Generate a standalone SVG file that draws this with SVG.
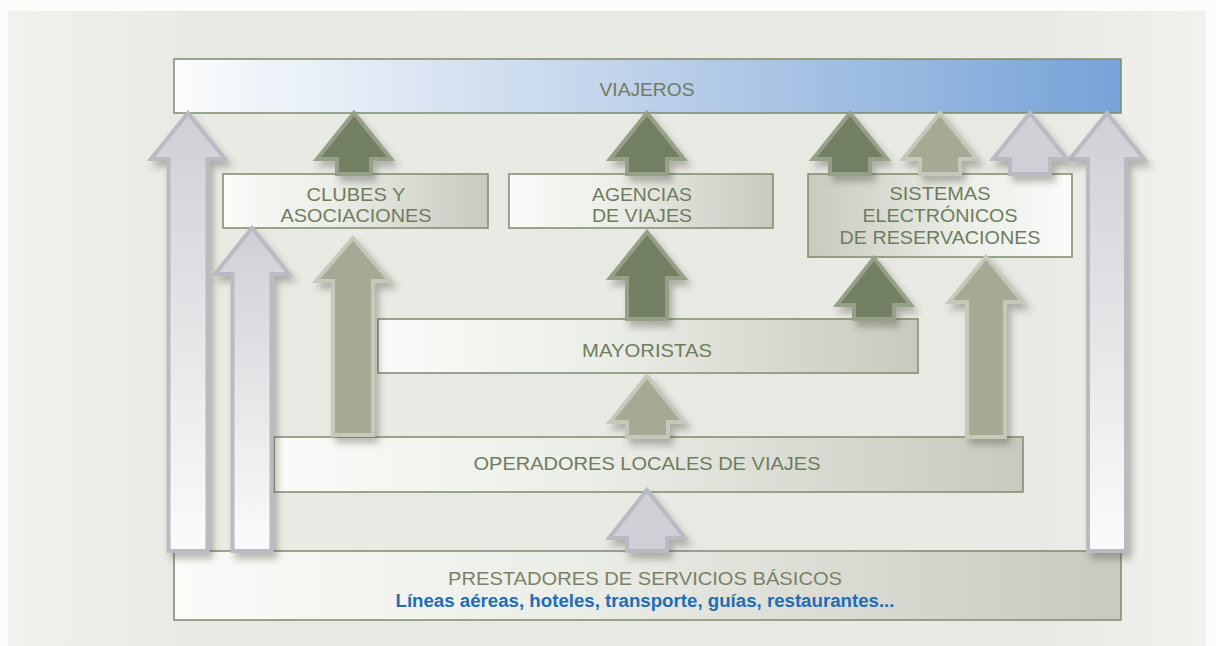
<svg xmlns="http://www.w3.org/2000/svg" width="1216" height="646" viewBox="0 0 1216 646">
  <defs>
    <linearGradient id="panel" x1="0" y1="0" x2="1" y2="0">
      <stop offset="0" stop-color="#f1f1ee"/>
      <stop offset="0.15" stop-color="#e9eae4"/>
      <stop offset="0.85" stop-color="#e8e9e3"/>
      <stop offset="1" stop-color="#f1f1ee"/>
    </linearGradient>
    <linearGradient id="gBlue" x1="0" y1="0" x2="1" y2="0">
      <stop offset="0" stop-color="#fbfcfd"/>
      <stop offset="0.45" stop-color="#c4d5ec"/>
      <stop offset="1" stop-color="#76a3d8"/>
    </linearGradient>
    <linearGradient id="gBoxR" x1="0" y1="0" x2="1" y2="0">
      <stop offset="0" stop-color="#fbfbf9"/>
      <stop offset="0.4" stop-color="#eceee8"/>
      <stop offset="1" stop-color="#c8cabf"/>
    </linearGradient>
    <linearGradient id="gBoxL" x1="0" y1="0" x2="1" y2="0">
      <stop offset="0" stop-color="#c8cabf"/>
      <stop offset="0.6" stop-color="#eceee8"/>
      <stop offset="1" stop-color="#fbfbfa"/>
    </linearGradient>
    <linearGradient id="gBig" x1="0" y1="0" x2="0" y2="1">
      <stop offset="0" stop-color="#cfd0d5"/>
      <stop offset="1" stop-color="#fbfbfb"/>
    </linearGradient>
    <filter id="sh" x="-30%" y="-30%" width="160%" height="160%">
      <feDropShadow dx="4" dy="6" stdDeviation="3.5" flood-color="#3d4236" flood-opacity="0.35"/>
    </filter>
    <style>
      .box { stroke: #7d8b6c; stroke-width: 1.5; }
      .lbl { font-family: "Liberation Sans", Arial, sans-serif; font-size: 19px; fill: #6e7c5e; text-anchor: middle; }
      .dark { fill: #727f62; stroke: #95a086; stroke-width: 4; stroke-linejoin: miter; filter: url(#sh); }
      .med { fill: #a6a994; stroke: #c6c9b9; stroke-width: 4; stroke-linejoin: miter; filter: url(#sh); }
      .light { fill: #cfd0d5; stroke: #b9bac2; stroke-width: 4; stroke-linejoin: miter; filter: url(#sh); }
      .big { fill: url(#gBig); stroke: #b9bac2; stroke-width: 4; stroke-linejoin: miter; filter: url(#sh); }
    </style>
  </defs>

  <rect x="0" y="0" width="1216" height="646" fill="#fcfcfb"/>
  <rect x="8" y="11" width="1198" height="635" fill="url(#panel)"/>

  <g id="viajeros">
    <rect class="box" x="174" y="59" width="947" height="54" fill="url(#gBlue)"/>
    <text class="lbl" x="647" y="96" textLength="95" lengthAdjust="spacingAndGlyphs">VIAJEROS</text>
  </g>
  <g id="clubes">
    <rect class="box" x="223" y="174" width="265" height="54" fill="url(#gBoxR)"/>
    <text class="lbl" x="356" y="201" textLength="99" lengthAdjust="spacingAndGlyphs">CLUBES Y</text>
    <text class="lbl" x="356" y="222" textLength="151" lengthAdjust="spacingAndGlyphs">ASOCIACIONES</text>
  </g>
  <g id="agencias">
    <rect class="box" x="509" y="174" width="264" height="54" fill="url(#gBoxR)"/>
    <text class="lbl" x="642" y="201" textLength="100" lengthAdjust="spacingAndGlyphs">AGENCIAS</text>
    <text class="lbl" x="642" y="222" textLength="100" lengthAdjust="spacingAndGlyphs">DE VIAJES</text>
  </g>
  <g id="sistemas">
    <rect class="box" x="808" y="174" width="264" height="83" fill="url(#gBoxL)"/>
    <text class="lbl" x="940" y="200" textLength="101" lengthAdjust="spacingAndGlyphs">SISTEMAS</text>
    <text class="lbl" x="940" y="222" textLength="155" lengthAdjust="spacingAndGlyphs">ELECTRÓNICOS</text>
    <text class="lbl" x="940" y="244" textLength="201" lengthAdjust="spacingAndGlyphs">DE RESERVACIONES</text>
  </g>
  <g id="mayoristas">
    <rect class="box" x="378" y="319" width="540" height="54" fill="url(#gBoxR)"/>
    <text class="lbl" x="647" y="357" textLength="130" lengthAdjust="spacingAndGlyphs">MAYORISTAS</text>
  </g>
  <g id="operadores">
    <rect class="box" x="274" y="437" width="749" height="55" fill="url(#gBoxR)"/>
    <text class="lbl" x="647" y="470" textLength="347" lengthAdjust="spacingAndGlyphs">OPERADORES LOCALES DE VIAJES</text>
  </g>
  <g id="prestadores">
    <rect class="box" x="174" y="551" width="947" height="69" fill="url(#gBoxR)"/>
    <text x="645" y="585" text-anchor="middle" font-family="Liberation Sans, Arial, sans-serif" font-size="18" fill="#7a8068" textLength="394" lengthAdjust="spacingAndGlyphs">PRESTADORES DE SERVICIOS BÁSICOS</text>
    <text x="645" y="607" text-anchor="middle" font-family="Liberation Sans, Arial, sans-serif" font-size="18" font-weight="bold" fill="#1f6db5" textLength="499" lengthAdjust="spacingAndGlyphs">Líneas aéreas, hoteles, transporte, guías, restaurantes...</text>
  </g>

  <g id="connectors">
    <path class="big" d="M188,113 L225,159 L207.5,159 L207.5,551 L168.5,551 L168.5,159 L151,159 Z"/>
    <path class="big" d="M252,228 L289,274 L271.5,274 L271.5,551 L232.5,551 L232.5,274 L215,274 Z"/>
    <path class="big" d="M1107,113 L1144,159 L1126,159 L1126,551 L1088,551 L1088,159 L1070,159 Z"/>
    <path class="dark" d="M354,113 L391,159 L371,159 L371,174 L337,174 L337,159 L317,159 Z"/>
    <path class="med" d="M353,238 L390,281 L373,281 L373,435 L333,435 L333,281 L316,281 Z"/>
    <path class="dark" d="M647,113 L684,159 L667,159 L667,174 L627,174 L627,159 L610,159 Z"/>
    <path class="dark" d="M647,232 L684,278 L667,278 L667,319 L627,319 L627,278 L610,278 Z"/>
    <path class="dark" d="M850,113 L887,159 L870,159 L870,174 L830,174 L830,159 L813,159 Z"/>
    <path class="med" d="M940,113 L977,159 L960,159 L960,174 L920,174 L920,159 L903,159 Z"/>
    <path class="light" d="M1030,113 L1067,159 L1050,159 L1050,174 L1010,174 L1010,159 L993,159 Z"/>
    <path class="dark" d="M874,258 L911,305 L894,305 L894,319 L854,319 L854,305 L837,305 Z"/>
    <path class="med" d="M986,257 L1023,302 L1005,302 L1005,437 L967,437 L967,302 L949,302 Z"/>
    <path class="med" d="M647,376 L684,422 L668,422 L668,437 L627,437 L627,422 L610,422 Z"/>
    <path class="light" d="M647,490 L685,538 L667,538 L667,551 L627,551 L627,538 L609,538 Z"/>
  </g>
</svg>
